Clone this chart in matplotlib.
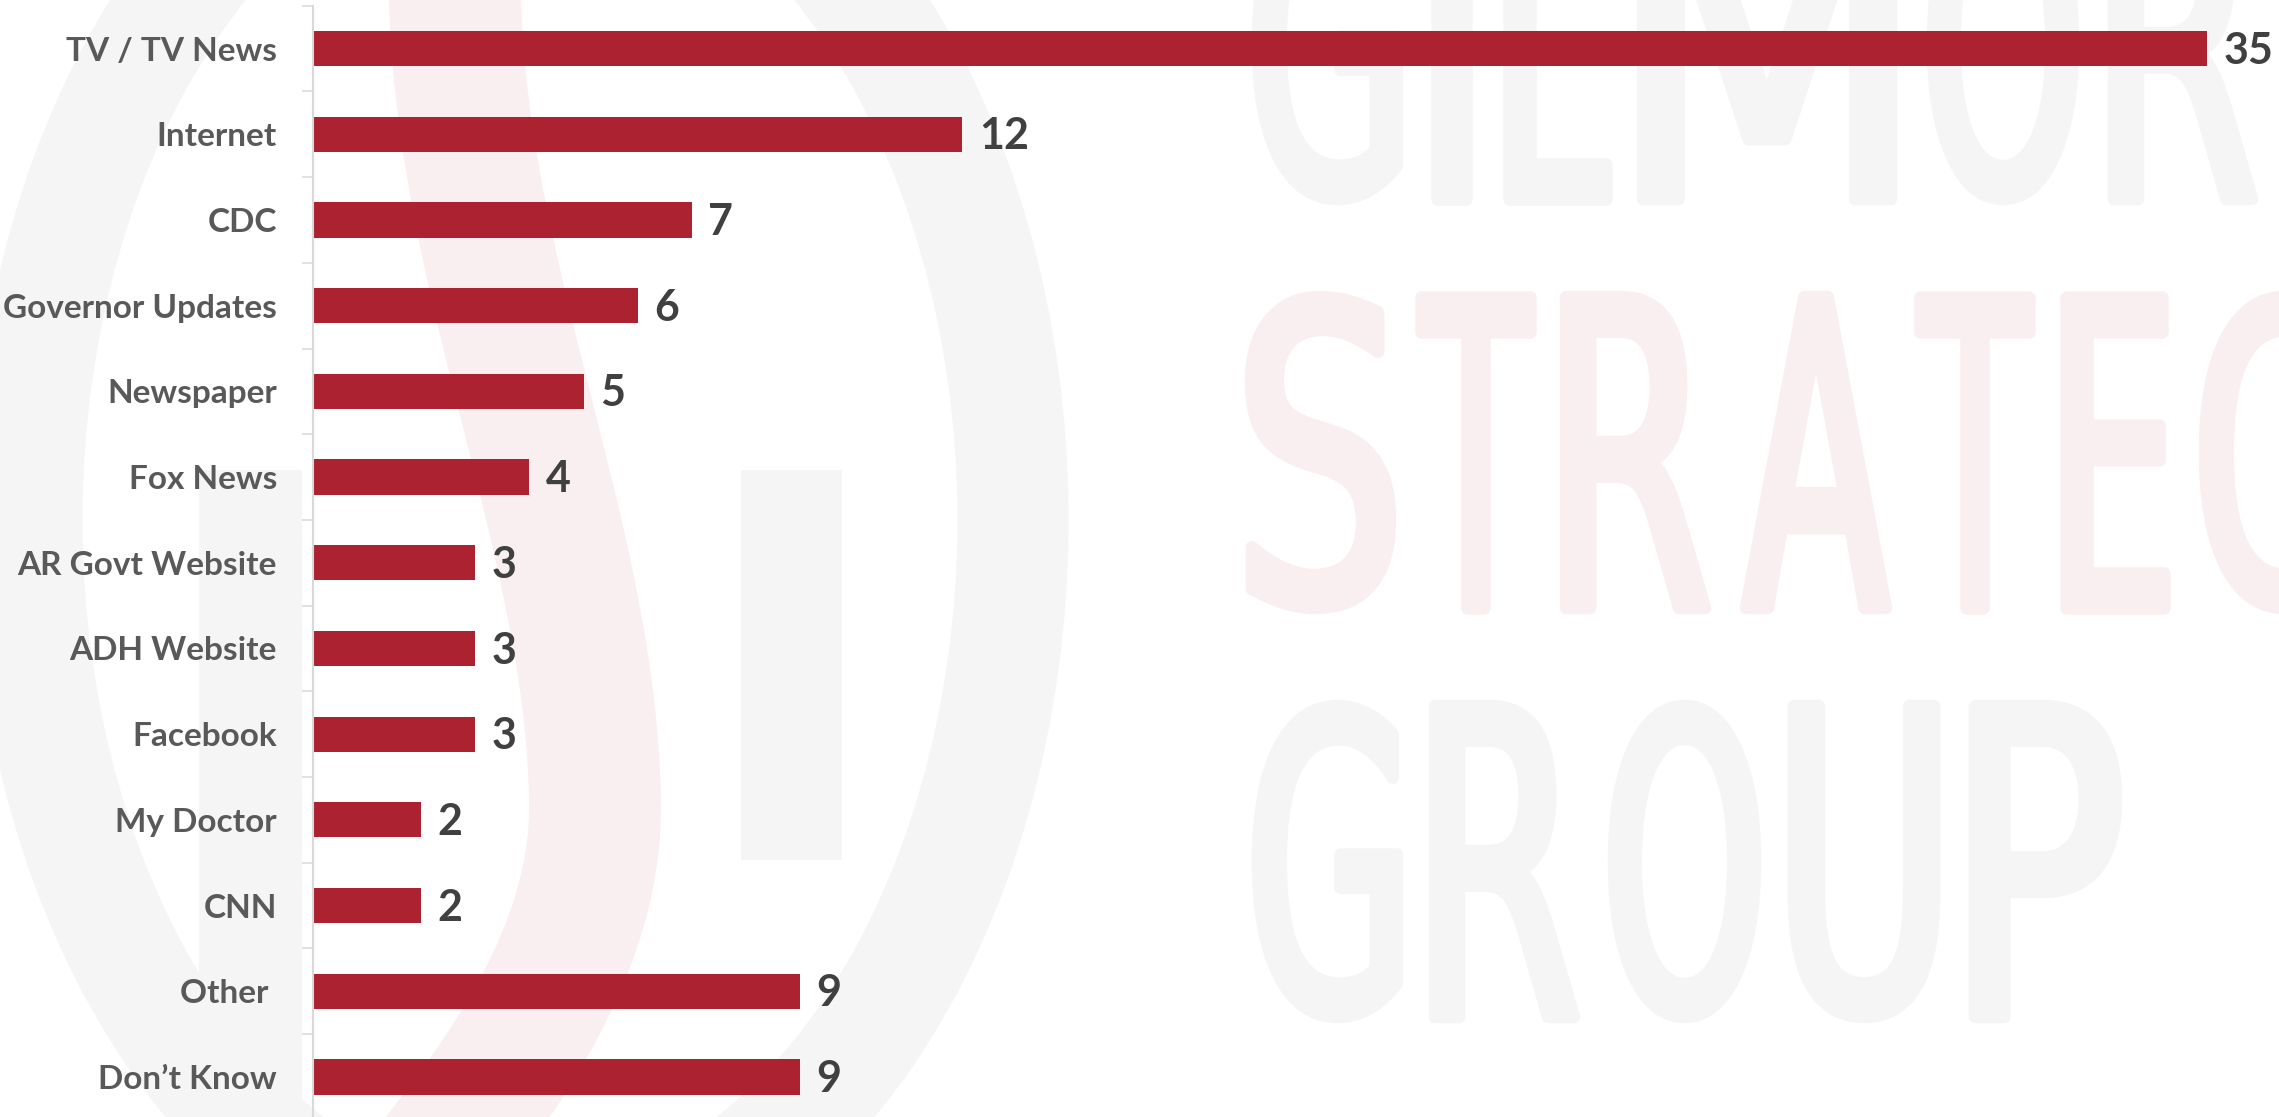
import matplotlib
matplotlib.use("Agg")
import matplotlib.pyplot as plt
from matplotlib.patches import Ellipse, Rectangle, PathPatch
from matplotlib.path import Path
from matplotlib.textpath import TextPath
from matplotlib.font_manager import FontProperties
from matplotlib.transforms import Affine2D

# data
categories = ["TV / TV News", "Internet", "CDC", "Governor Updates", "Newspaper",
              "Fox News", "AR Govt Website", "ADH Website", "Facebook",
              "My Doctor", "CNN", "Other ", "Don\u2019t Know"]
values = [35, 12, 7, 6, 5, 4, 3, 3, 3, 2, 2, 9, 9]

W, H = 2279, 1117
bar_color = "#ad2231"
label_color = "#595959"
value_color = "#404040"
wm_gray = "#f5f5f5"
wm_pink = "#f9eff0"

plt.rcParams["font.family"] = ["Lato", "DejaVu Sans"]

fig = plt.figure(figsize=(W / 100, H / 100), dpi=100)
fig.patch.set_facecolor("white")

# pixel coords (origin top-left) -> figure
pix = Affine2D().scale(1 / W, -1 / H).translate(0, 1) + fig.transFigure

# --- faint logo watermark in the background ---
fig.add_artist(Ellipse((520, 520), 986, 1450, fill=False, lw=80,
                       ec=wm_gray, transform=pix, zorder=-6))
fig.add_artist(Rectangle((199, 470), 103, 700, fc=wm_gray, ec="none",
                         transform=pix, zorder=-6))
fig.add_artist(Rectangle((741, 470), 101, 390, fc=wm_gray, ec="none",
                         transform=pix, zorder=-6))
s_curve = Path([(455, -60), (445, 250), (590, 520), (595, 800),
                (598, 950), (500, 1080), (420, 1180)],
               [Path.MOVETO, Path.CURVE4, Path.CURVE4, Path.CURVE4,
                Path.CURVE4, Path.CURVE4, Path.CURVE4])
fig.add_artist(PathPatch(s_curve, fill=False, lw=95, ec=wm_pink,
                         capstyle="butt", transform=pix, zorder=-5))

wm_font = FontProperties(family="DejaVu Sans")


def letter(ch, x0, x1, y_top, color, h=323):
    tp = TextPath((0, 0), ch, size=1, prop=wm_font)
    ext = tp.get_extents()
    w = x1 - x0 - 12
    hh = h - 12
    tr = (Affine2D().translate(-ext.x0, -ext.y0)
          .scale(w / ext.width, -hh / ext.height)
          .translate(x0 + 6, y_top + 6 + hh))
    fig.add_artist(PathPatch(tr.transform_path(tp), fc=color, ec=color, lw=9,
                             joinstyle="round", transform=pix, zorder=-5))


for ch, a, b in [("G", 1252, 1403), ("I", 1431, 1472), ("L", 1503, 1612),
                 ("M", 1637, 1897), ("O", 1927, 2079), ("R", 2108, 2258),
                 ("E", 2290, 2400)]:
    letter(ch, a, b, -118, wm_gray)
for ch, a, b in [("S", 1245, 1396), ("T", 1415, 1536), ("R", 1560, 1711),
                 ("A", 1740, 1892), ("T", 1914, 2035), ("E", 2060, 2170),
                 ("G", 2199, 2350)]:
    letter(ch, a, b, 291, wm_pink)
for ch, a, b in [("G", 1252, 1403), ("R", 1429, 1580), ("O", 1608, 1761),
                 ("U", 1788, 1940), ("P", 1969, 2122)]:
    letter(ch, a, b, 700, wm_gray)

# --- the chart ---
left_px, top_px, bottom_px = 313, 5.7, 1119.8
ax = fig.add_axes([left_px / W, 1 - bottom_px / H,
                   (W - left_px) / W, (bottom_px - top_px) / H])
ax.set_facecolor("none")

y = list(range(len(categories)))
ax.barh(y, values, height=0.41, color=bar_color)

ax.set_xlim(0, (W - left_px) / 54.1)
ax.set_ylim(len(categories) - 0.5, -0.5)

for yi, v in zip(y, values):
    ax.annotate(str(v), (v, yi), xytext=(12, -1.5), textcoords="offset points",
                ha="left", va="center", fontsize=31, fontweight="bold",
                color=value_color)

ax.set_yticks(y)
ax.set_yticklabels(categories, fontsize=24, fontweight="bold", color=label_color)
ax.set_yticks([i - 0.5 for i in range(len(categories) + 1)], minor=True)
ax.tick_params(axis="y", which="major", length=0, pad=26)
ax.tick_params(axis="y", which="minor", length=8, width=1.1, color="#d9d9d9")
ax.xaxis.set_visible(False)
for side in ["top", "right", "bottom"]:
    ax.spines[side].set_visible(False)
ax.spines["left"].set_color("#d9d9d9")
ax.spines["left"].set_linewidth(1.5)

fig.savefig("out.png", dpi=100)
